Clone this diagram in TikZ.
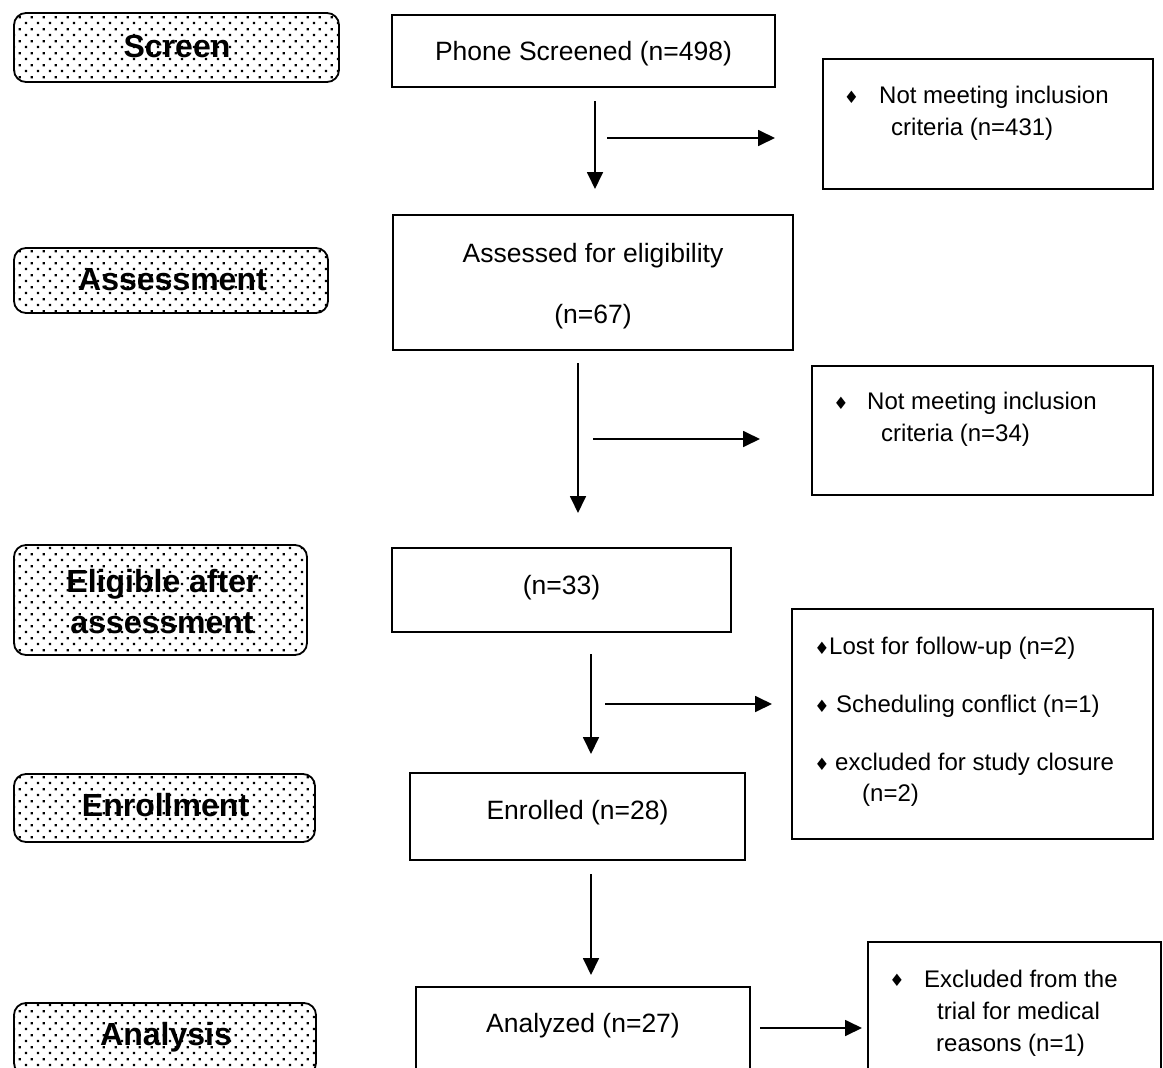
\documentclass[tikz,border=0pt]{standalone}
\usepackage{fontspec}
\setmainfont{Liberation Sans}
\newfontfamily\symfont{DejaVu Sans}
\usetikzlibrary{arrows.meta,patterns}
\pgfdeclarepatternformonly{sparsedots}{\pgfqpoint{0pt}{0pt}}{\pgfqpoint{11.7pt}{11.7pt}}{\pgfqpoint{11.7pt}{11.7pt}}{%
  \pgfpathrectangle{\pgfqpoint{2pt}{2pt}}{\pgfqpoint{2.2pt}{2.2pt}}%
  \pgfpathrectangle{\pgfqpoint{7.85pt}{7.85pt}}{\pgfqpoint{2.2pt}{2.2pt}}%
  \pgfusepath{fill}}
\begin{document}
\begin{tikzpicture}[x=1pt,y=-1pt,
  box/.style={draw, line width=1.8pt, inner sep=0pt},
  lbl/.style={draw, line width=1.8pt, rounded corners=12pt, pattern=sparsedots, inner sep=0pt},
  midtxt/.style={anchor=base, inner sep=0pt, font=\fontsize{26.5}{30}\selectfont},
  sidetxt/.style={anchor=base west, inner sep=0pt, font=\fontsize{24}{28}\selectfont},
  headtxt/.style={anchor=base, inner sep=0pt, font=\fontsize{32}{38}\selectfont\bfseries},
  bul/.style={inner sep=0pt, font=\symfont\fontsize{17}{17}\selectfont},
  arr/.style={line width=1.8pt, -{Triangle[length=17pt,width=16pt]}}
]
\useasboundingbox (0,0) rectangle (1163,1068);
\clip (0,0) rectangle (1163,1068);

% left stage labels
\node[lbl, minimum width=325, minimum height=69] (l1) at (176.5,47.5) {};
\node[lbl, minimum width=314, minimum height=65] (l2) at (171,280.5) {};
\node[lbl, minimum width=293, minimum height=110] (l3) at (160.5,600) {};
\node[lbl, minimum width=301, minimum height=68] (l4) at (164.5,808) {};
\node[lbl, minimum width=302, minimum height=72] (l5) at (165,1039) {};
\node[headtxt] (l1t) at (177,57) {Screen};
\node[headtxt] (l2t) at (172.5,290) {Assessment};
\node[headtxt] (l3t) at (162.5,592) {Eligible after};
\node[headtxt] (l3u) at (162,633) {assessment};
\node[headtxt] (l4t) at (165.5,816) {Enrollment};
\node[headtxt] (l5t) at (166,1045) {Analysis};

% middle boxes
\node[box, minimum width=383, minimum height=72] (b1) at (583.5,51) {};
\node[box, minimum width=400, minimum height=135] (b2) at (593,282.5) {};
\node[box, minimum width=339, minimum height=84] (b3) at (561.5,590) {};
\node[box, minimum width=335, minimum height=87] (b4) at (577.5,816.5) {};
\node[box, minimum width=334, minimum height=96] (b5) at (583,1035) {};
\node[midtxt] (b1t) at (583.5,60) {Phone Screened (n=498)};
\node[midtxt] (b2t) at (593,262) {Assessed for eligibility};
\node[midtxt] (b2u) at (593,323) {(n=67)};
\node[midtxt] (b3t) at (561.5,594) {(n=33)};
\node[midtxt] (b4t) at (577.5,819) {Enrolled (n=28)};
\node[midtxt] (b5t) at (583,1032) {Analyzed (n=27)};

% right exclusion boxes
\node[box, minimum width=330, minimum height=130] (r1) at (988,124) {};
\node[bul] (r1b) at (851.5,97) {♦};
\node[sidetxt] (r1t) at (879,103) {Not meeting inclusion};
\node[sidetxt] (r1u) at (891,135) {criteria (n=431)};

\node[box, minimum width=341, minimum height=129] (r2) at (982.5,430.5) {};
\node[bul] (r2b) at (841,403) {♦};
\node[sidetxt] (r2t) at (867,409) {Not meeting inclusion};
\node[sidetxt] (r2u) at (881,441) {criteria (n=34)};

\node[box, minimum width=361, minimum height=230] (r3) at (972.5,724) {};
\node[bul] (r3b) at (822,648) {♦};
\node[sidetxt] (r3t) at (829,654) {Lost for follow-up (n=2)};
\node[bul] (r3c) at (822,706) {♦};
\node[sidetxt] (r3u) at (836,712) {Scheduling conflict (n=1)};
\node[bul] (r3d) at (822,764) {♦};
\node[sidetxt] (r3v) at (835,770) {excluded for study closure};
\node[sidetxt] (r3w) at (862,801) {(n=2)};

\node[box, minimum width=293, minimum height=140] (r4) at (1014.5,1012) {};
\node[bul] (r4b) at (897,980) {♦};
\node[sidetxt] (r4t) at (924,987) {Excluded from the};
\node[sidetxt] (r4u) at (937,1019) {trial for medical};
\node[sidetxt] (r4v) at (936,1051) {reasons (n=1)};

% free-standing arrows
\coordinate (v1s) at (595,101);  \coordinate (v1e) at (595,189);
\coordinate (h1s) at (607,138);  \coordinate (h1e) at (775,138);
\coordinate (v2s) at (578,363);  \coordinate (v2e) at (578,513);
\coordinate (h2s) at (593,439);  \coordinate (h2e) at (760,439);
\coordinate (v3s) at (591,654);  \coordinate (v3e) at (591,754);
\coordinate (h3s) at (605,704);  \coordinate (h3e) at (772,704);
\coordinate (v4s) at (591,874);  \coordinate (v4e) at (591,975);
\coordinate (h4s) at (760,1028); \coordinate (h4e) at (862,1028);
\draw[arr] (v1s) -- (v1e);
\draw[arr] (h1s) -- (h1e);
\draw[arr] (v2s) -- (v2e);
\draw[arr] (h2s) -- (h2e);
\draw[arr] (v3s) -- (v3e);
\draw[arr] (h3s) -- (h3e);
\draw[arr] (v4s) -- (v4e);
\draw[arr] (h4s) -- (h4e);
\end{tikzpicture}
\end{document}
